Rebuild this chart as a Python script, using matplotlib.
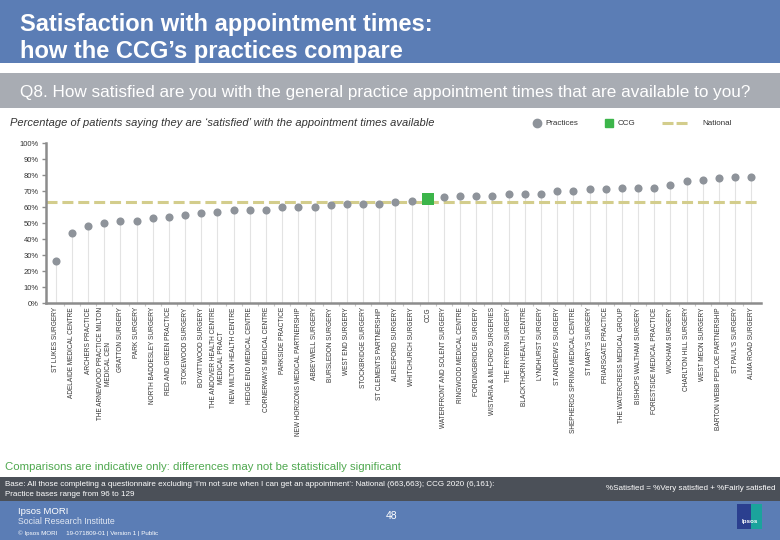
import matplotlib.pyplot as plt
from matplotlib.patches import Rectangle

plt.rcParams['font.family'] = ['Liberation Sans', 'DejaVu Sans']

practices = [
    "ST LUKES SURGERY", "ADELAIDE MEDICAL CENTRE", "ARCHERS PRACTICE",
    "THE ARNEWOOD PRACTICE MILTON\nMEDICAL CEN", "GRATTON SURGERY", "PARK SURGERY",
    "NORTH BADDESLEY SURGERY", "RED AND GREEN PRACTICE", "STOKEWOOD SURGERY",
    "BOYATTWOOD SURGERY", "THE ANDOVER HEALTH CENTRE\nMEDICAL PRACT",
    "NEW MILTON HEALTH CENTRE", "HEDGE END MEDICAL CENTRE", "CORNERWAYS MEDICAL CENTRE",
    "PARKSIDE PRACTICE", "NEW HORIZONS MEDICAL PARTNERSHIP", "ABBEYWELL SURGERY",
    "BURSLEDON SURGERY", "WEST END SURGERY", "STOCKBRIDGE SURGERY",
    "ST CLEMENTS PARTNERSHIP", "ALRESFORD SURGERY", "WHITCHURCH SURGERY", "CCG",
    "WATERFRONT AND SOLENT SURGERY", "RINGWOOD MEDICAL CENTRE", "FORDINGBRIDGE SURGERY",
    "WISTARIA & MILFORD SURGERIES", "THE FRYERN SURGERY", "BLACKTHORN HEALTH CENTRE",
    "LYNDHURST SURGERY", "ST ANDREW'S SURGERY", "SHEPHERDS SPRING MEDICAL CENTRE",
    "ST MARY'S SURGERY", "FRIARSGATE PRACTICE", "THE WATERCRESS MEDICAL GROUP",
    "BISHOPS WALTHAM SURGERY", "FORESTSIDE MEDICAL PRACTICE", "WICKHAM SURGERY",
    "CHARLTON HILL SURGERY", "WEST MEON SURGERY", "BARTON WEBB PEPLOE PARTNERSHIP",
    "ST PAUL'S SURGERY", "ALMA ROAD SURGERY",
]
satisfied = [
    26, 44, 48, 50, 51, 51, 53, 54, 55, 56, 57, 58, 58, 58, 60, 60, 60, 61, 62, 62,
    62, 63, 64, 65, 66, 67, 67, 67, 68, 68, 68, 70, 70, 71, 71, 72, 72, 72, 74, 76,
    77, 78, 79, 79,
]
national = 63
ccg_name = "CCG"
yticks = [0, 10, 20, 30, 40, 50, 60, 70, 80, 90, 100]

W, H = 780, 540
fig = plt.figure(figsize=(7.8, 5.4), dpi=100)

# page furniture, drawn in pixel coords
bg = fig.add_axes([0, 0, 1, 1])
bg.set_xlim(0, W)
bg.set_ylim(H, 0)
bg.axis("off")

bg.add_patch(Rectangle((0, 0), W, 63, color="#5b7db5", lw=0))
bg.text(20, 31, "Satisfaction with appointment times:", color="white", fontsize=17,
        weight="bold", va="baseline")
bg.text(20, 58, "how the CCG\u2019s practices compare", color="white", fontsize=17,
        weight="bold", va="baseline")

bg.add_patch(Rectangle((0, 73), W, 35, color="#a8acb3", lw=0))
bg.text(20, 97, "Q8. How satisfied are you with the general practice appointment times that are available to you?",
        color="white", fontsize=12.3, va="baseline")

bg.text(10, 123, "Percentage of patients saying they are \u2018satisfied\u2019 with the appointment times available",
        color="#333333", fontsize=8, style="italic", va="center")

# legend
bg.plot([537], [123], "o", color="#8e939a", ms=6)
bg.text(545, 123.5, "Practices", fontsize=5.8, color="#333333", va="center")
bg.plot([609], [123], "s", color="#3cb54a", ms=6)
bg.text(618, 123.5, "CCG", fontsize=5.8, color="#333333", va="center")
bg.plot([662, 690], [123, 123], color="#d3cd8c", lw=2.2, dashes=(3.6, 1.0))
bg.text(702, 123.5, "National", fontsize=5.8, color="#333333", va="center")

bg.text(5, 467, "Comparisons are indicative only: differences may not be statistically significant",
        color="#4fa84f", fontsize=8.2, va="center")

bg.add_patch(Rectangle((0, 477), W, 24, color="#4b5058", lw=0))
bg.text(5, 484.5, "Base: All those completing a questionnaire excluding \u2018I\u2019m not sure when I can get an appointment\u2019: "
        "National (663,663); CCG 2020 (6,161):", color="white", fontsize=5.8, va="center")
bg.text(5, 494, "Practice bases range from 96 to 129", color="white", fontsize=5.8, va="center")
bg.text(776, 488, "%Satisfied = %Very satisfied + %Fairly satisfied", color="white", fontsize=5.8,
        va="center", ha="right")

bg.add_patch(Rectangle((0, 501), W, 39, color="#5b7db5", lw=0))
bg.text(18, 511, "Ipsos MORI", color="white", fontsize=6.8, va="center")
bg.text(18, 522, "Social Research Institute", color="#dfe6f2", fontsize=6.3, va="center")
bg.text(18, 533, "\u00a9 Ipsos MORI     19-071809-01 | Version 1 | Public", color="white", fontsize=4.5, va="center")
bg.text(392, 516, "48", color="white", fontsize=7.5, va="center", ha="center")
bg.add_patch(Rectangle((750, 504), 12, 25, color="#1ba39c", lw=0))
bg.add_patch(Rectangle((737, 504), 14, 25, color="#2b3f8f", lw=0))
bg.text(749.5, 522, "Ipsos", color="white", fontsize=4.5, weight="bold", ha="center", va="center")

# main chart
ax = fig.add_axes([46 / W, 1 - 303 / H, (761 - 46) / W, (303 - 143) / H])
ax.set_facecolor("none")
x = list(range(len(practices)))
ccg_i = practices.index(ccg_name)
px = [i for i in x if i != ccg_i]
py = [satisfied[i] for i in px]

ax.vlines(x, 0, satisfied, color="#e3e3e3", lw=0.8, zorder=1)
ax.axhline(national, color="#d3cd8c", lw=2.2, dashes=(3.6, 1.6), zorder=2)
ax.scatter(px, py, s=34, color="#8e939a", zorder=3, linewidths=0)
ax.scatter([ccg_i], [satisfied[ccg_i]], s=70, marker="s", color="#3cb54a", zorder=3, linewidths=0)

ax.set_xlim(-0.6, len(practices) - 0.4)
ax.set_ylim(0, 100)
ax.set_yticks(yticks)
ax.set_yticklabels([f"{v}%" for v in yticks], fontsize=5.5, color="#333333")
ax.set_xticks(x)
ax.set_xticklabels(practices, rotation=90, fontsize=4.7, color="#333333",
                   ha="center", va="top", multialignment="center")
ax.set_xticks([i + 0.5 for i in x[:-1]], minor=True)
ax.tick_params(axis="x", which="major", length=0, pad=3)
ax.tick_params(axis="x", which="minor", length=2, color="#c8c8c8", width=0.8)
ax.tick_params(axis="y", length=3, color="#8c8c8c", width=1, pad=2)
for s in ("top", "right"):
    ax.spines[s].set_visible(False)
for s in ("left", "bottom"):
    ax.spines[s].set_color("#8c8c8c")
    ax.spines[s].set_linewidth(1.8)

fig.savefig("out.png", dpi=100)
